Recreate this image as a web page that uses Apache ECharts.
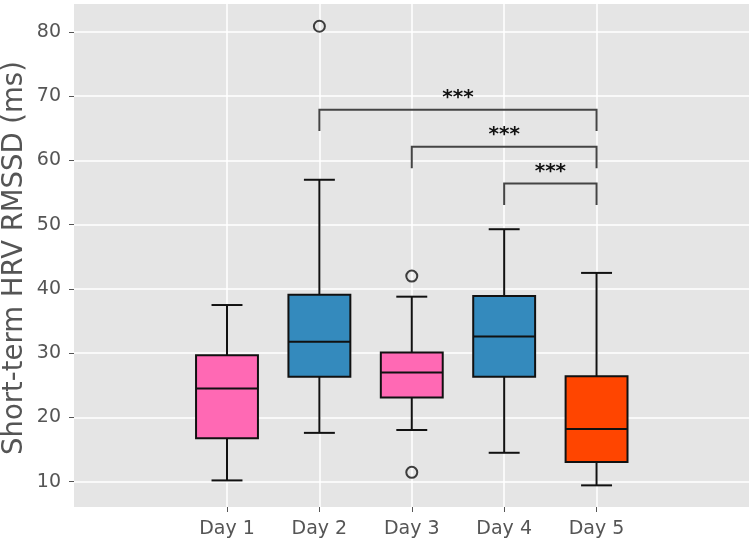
<!DOCTYPE html>
<html>
<head>
<meta charset="utf-8">
<script src="https://cdn.jsdelivr.net/npm/echarts@6/dist/echarts.min.js"></script>
<style>
  html, body { margin: 0; padding: 0; background: #fff; }
  #chart { width: 754px; height: 542px; }
</style>
</head>
<body>
<div id="chart"></div>
<script>
// categories and box stats
const days = ['Day 1', 'Day 2', 'Day 3', 'Day 4', 'Day 5'];
// [low whisker, q1, median, q3, high whisker]
const boxStats = [
  [10.2, 16.75, 24.5, 29.7, 37.5],
  [17.6, 26.35, 31.8, 39.1, 57.0],
  [18.05, 23.1, 27.0, 30.1, 38.8],
  [14.5, 26.35, 32.6, 38.9, 49.3],
  [9.43, 13.07, 18.2, 26.4, 42.5],
];
const boxColors = ['#FF69B4', '#348ABD', '#FF69B4', '#348ABD', '#FF4500'];
// outliers: [day index (1-based), value]
const outliers = [[2, 80.9], [3, 42.0], [3, 11.46]];
// significance brackets: [from day, to day, bar level, leg end]
const brackets = [[2, 5, 67.9, 64.6], [3, 5, 62.15, 58.8], [4, 5, 56.4, 53.07]];
const bracketLabels = ['***', '***', '***'];
const yTicks = [10, 20, 30, 40, 50, 60, 70, 80];
const xTicks = [1, 2, 3, 4, 5];
const yTitle = 'Short-term HRV RMSSD (ms)';

const BOX_W = 0.67;
const chart = echarts.init(document.getElementById('chart'));

const boxData = boxStats.map((s, i) => [i + 1].concat(s));

function renderBox(params, api) {
  const x = api.value(0);
  const half = api.size([BOX_W, 0])[0] / 2;
  const capHalf = half / 2;
  const cx = api.coord([x, 0])[0];
  const yLow = api.coord([x, api.value(1)])[1];
  const yQ1 = api.coord([x, api.value(2)])[1];
  const yMed = api.coord([x, api.value(3)])[1];
  const yQ3 = api.coord([x, api.value(4)])[1];
  const yHigh = api.coord([x, api.value(5)])[1];
  const line = { stroke: '#111', lineWidth: 2 };
  return {
    type: 'group',
    children: [
      { type: 'line', shape: { x1: cx, y1: yLow, x2: cx, y2: yQ1 }, style: line },
      { type: 'line', shape: { x1: cx, y1: yQ3, x2: cx, y2: yHigh }, style: line },
      { type: 'line', shape: { x1: cx - capHalf, y1: yLow, x2: cx + capHalf, y2: yLow }, style: line },
      { type: 'line', shape: { x1: cx - capHalf, y1: yHigh, x2: cx + capHalf, y2: yHigh }, style: line },
      {
        type: 'rect',
        shape: { x: cx - half, y: yQ3, width: half * 2, height: yQ1 - yQ3 },
        style: { fill: boxColors[params.dataIndex], stroke: '#111', lineWidth: 2 },
      },
      { type: 'line', shape: { x1: cx - half, y1: yMed, x2: cx + half, y2: yMed }, style: line },
    ],
  };
}

function renderBracket(params, api) {
  const p1 = api.coord([api.value(0), api.value(2)]);
  const p2 = api.coord([api.value(1), api.value(2)]);
  const yEnd = api.coord([api.value(0), api.value(3)])[1];
  return {
    type: 'group',
    children: [
      {
        type: 'polyline',
        shape: { points: [[p1[0], yEnd], p1, p2, [p2[0], yEnd]] },
        style: { stroke: '#444', lineWidth: 2, fill: null },
      },
      {
        type: 'text',
        style: {
          x: (p1[0] + p2[0]) / 2,
          y: p1[1] - 12,
          text: bracketLabels[params.dataIndex],
          font: 'bold 20px "DejaVu Sans"',
          fill: '#111',
          align: 'center',
          verticalAlign: 'middle',
        },
      },
    ],
  };
}

chart.setOption({
  animation: false,
  backgroundColor: '#fff',
  grid: {
    left: 74, right: 5, top: 4, bottom: 35,
    outerBoundsMode: 'none',
    containLabel: false,
    show: true, backgroundColor: '#E5E5E5', borderWidth: 0,
  },
  graphic: [{
    type: 'text',
    x: 15,
    y: 258,
    rotation: Math.PI / 2,
    style: {
      text: yTitle,
      font: '27.5px "DejaVu Sans"',
      fill: '#555',
      align: 'center',
      verticalAlign: 'middle',
    },
  }],
  xAxis: {
    type: 'value',
    min: -0.656,
    max: 6.65,
    axisLine: { show: false, onZero: false },
    axisTick: { show: true, customValues: xTicks, length: 5, lineStyle: { color: '#555', width: 1 } },
    axisLabel: {
      customValues: xTicks,
      formatter: v => days[v - 1],
      color: '#555',
      fontSize: 19,
      fontFamily: 'DejaVu Sans',
      margin: 13,
    },
    splitLine: { show: true, lineStyle: { color: '#fff', width: 1.5 } },
  },
  yAxis: {
    type: 'value',
    min: 6.06,
    max: 84.36,
    axisLine: { show: false, onZero: false },
    axisTick: { show: true, customValues: yTicks, length: 5, lineStyle: { color: '#555', width: 1 } },
    axisLabel: {
      customValues: yTicks,
      color: '#555',
      fontSize: 19,
      fontFamily: 'DejaVu Sans',
      margin: 13,
    },
    splitLine: { show: true, lineStyle: { color: '#fff', width: 1.5 } },
  },
  series: [
    {
      type: 'custom',
      renderItem: renderBox,
      data: boxData,
      encode: { x: 0, y: [1, 2, 3, 4, 5] },
      z: 3,
    },
    {
      type: 'scatter',
      data: outliers,
      symbol: 'circle',
      symbolSize: 11,
      itemStyle: { color: 'rgba(0,0,0,0)', borderColor: '#111', borderWidth: 2 },
      z: 4,
    },
    {
      type: 'custom',
      renderItem: renderBracket,
      data: brackets,
      encode: { x: [0, 1], y: [2, 3] },
      z: 5,
    },
  ],
});
</script>
</body>
</html>
